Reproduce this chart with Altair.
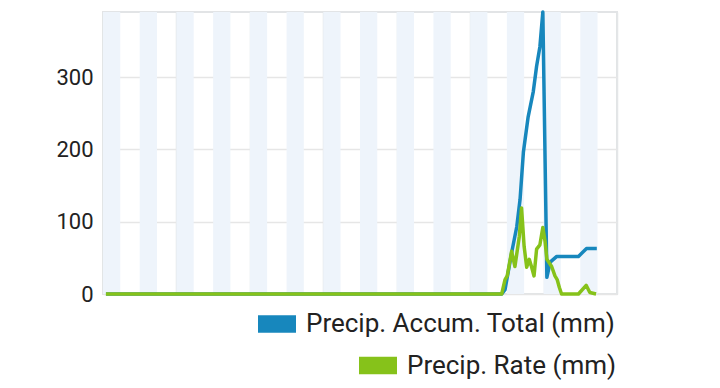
import altair as alt
import pandas as pd

# ---- data (x in half-day units across the window) ----
accum_x = [0.08, 10.86, 10.95, 11.13, 11.27, 11.36, 11.45, 11.58, 11.72, 11.81, 11.90, 11.98,
           12.09, 12.18, 12.36, 12.95, 13.17, 13.45]
accum_y = [0, 0, 6, 57, 93, 131, 196, 245, 280, 315, 342, 390,
           23, 44, 52, 52, 63, 63]

rate_x = [0.08, 10.86, 10.95, 11.01, 11.13, 11.22, 11.34, 11.40, 11.47, 11.54, 11.61, 11.67,
          11.74, 11.81, 11.90, 11.98, 12.04, 12.09, 12.22, 12.31, 12.37, 12.43, 12.49,
          12.95, 13.16, 13.26, 13.43]
rate_y = [0, 0, 20, 25, 59, 38, 80, 119, 66, 37, 48, 38,
          25, 62, 68, 92, 73, 48, 38, 25, 20, 9, 0,
          0, 12, 2, 0]

band_start = list(range(14))
band_len = 0.47

y_ticks = [0, 100, 200, 300]
x_grid = [0, 2, 4, 6, 8, 10, 12, 14]

ACC = "Precip. Accum. Total (mm)"
RATE = "Precip. Rate (mm)"
BLUE = "#1787bd"
GREEN = "#86c21a"

acc_df = pd.DataFrame({"x": accum_x, "y": accum_y, "s": ACC})
rate_df = pd.DataFrame({"x": rate_x, "y": rate_y, "s": RATE})
band_df = pd.DataFrame({"x": band_start, "x2": [b + band_len for b in band_start]})

xs = alt.Scale(domain=[0, 14], nice=False, zero=False)
ys = alt.Scale(domain=[0, 390], nice=False)

x_axis = alt.Axis(values=x_grid, labels=False, ticks=False, domain=False, title=None,
                  grid=True, gridColor="#e4e6e8", gridWidth=1.5)
y_axis = alt.Axis(values=y_ticks, ticks=False, domain=False, title=None, grid=True,
                  gridColor="#e6e6e6", gridWidth=1.5, labelFontSize=22, labelFont="Roboto",
                  labelFontWeight="normal", labelColor="#222222", labelPadding=10)

bands = alt.Chart(band_df).mark_rect(color="#eef4fb").encode(
    x=alt.X("x:Q", scale=xs, axis=x_axis),
    x2="x2:Q",
    y=alt.value(0),
    y2=alt.value(282),
)

grid_y = alt.Chart(pd.DataFrame({"y": y_ticks})).mark_point(opacity=0).encode(
    y=alt.Y("y:Q", scale=ys, axis=y_axis)
)

rect_path = "M-1,-0.46H1V0.46H-1Z"


def legend(color, lx, ly):
    return alt.Legend(
        title=None, orient="none", legendX=lx, legendY=ly,
        symbolType=rect_path, symbolSize=1444, symbolStrokeWidth=0,
        symbolFillColor=color, symbolStrokeColor=color, symbolOpacity=1,
        labelFontSize=26, labelFont="Roboto", labelColor="#222222", labelOffset=10,
        labelLimit=500,
    )


acc_line = alt.Chart(acc_df).mark_line(strokeWidth=3.5, strokeJoin="round").encode(
    x=alt.X("x:Q", scale=xs),
    y=alt.Y("y:Q", scale=ys),
    color=alt.Color("s:N", scale=alt.Scale(domain=[ACC], range=[BLUE]),
                    legend=legend(BLUE, 155, 293)),
)

rate_line = alt.Chart(rate_df).mark_line(strokeWidth=3.5, strokeJoin="round").encode(
    x=alt.X("x:Q", scale=xs),
    y=alt.Y("y:Q", scale=ys),
    color=alt.Color("s:N", scale=alt.Scale(domain=[RATE], range=[GREEN]),
                    legend=legend(GREEN, 256, 334.5)),
)

chart = alt.layer(bands, grid_y, acc_line, rate_line).resolve_scale(
    color="independent"
).properties(
    width=514, height=282,
    autosize=alt.AutoSizeParams(type="none"),
    padding={"left": 103, "top": 12, "right": 103, "bottom": 94},
    background="white",
).configure_view(stroke="#e2e4e6", strokeWidth=2)

chart.save("out.html", embed_options={"renderer": "svg", "actions": False})
